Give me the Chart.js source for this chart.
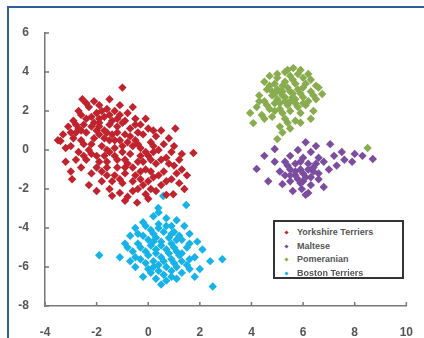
<!DOCTYPE html>
<html>
<head>
<meta charset="utf-8">
<script src="https://cdn.jsdelivr.net/npm/chart.js@4.4.1/dist/chart.umd.min.js"></script>
<style>
  html, body { margin: 0; padding: 0; background: #fff; }
  #wrap { position: relative; width: 424px; height: 338px; overflow: hidden; }
  #frame { position: absolute; left: 7px; top: 6px; width: 440px; height: 360px; border-left: 2px solid #2f5f9a; border-top: 2px solid #2f5f9a; box-sizing: border-box; }
  #legend { position: absolute; left: 273px; top: 220px; width: 131px; height: 59px; border: 2px solid #333; box-sizing: border-box; background: #fff;
    font: bold 9px "Liberation Sans", Arial, sans-serif; color: #555; padding-top: 4px; }
  #legend .row { height: 13.5px; line-height: 13.5px; position: relative; padding-left: 22px; white-space: nowrap; }
  #legend .mk { position: absolute; left: 10px; top: 5px; width: 3px; height: 3px; transform: rotate(45deg); }
  canvas { position: absolute; left: 0; top: 0; }
</style>
</head>
<body>
<div id="wrap">
  <canvas id="chart" width="424" height="338"></canvas>
  <div id="frame"></div>
  <div id="legend"></div>
</div>
<script>
const X_TICKS = [-4, -2, 0, 2, 4, 6, 8, 10];
const Y_TICKS = [-8, -6, -4, -2, 0, 2, 4, 6];

const SERIES_NAMES = ["Yorkshire Terriers", "Maltese", "Pomeranian", "Boston Terriers"];
const SERIES_COLORS = ["#c0232d", "#7c4d9f", "#88ac4e", "#17b3e8"];

const yorkshire = [
  [-3.4,0.46],[-1.0,3.2],[1.75,-0.15],[1.05,1.1],[-2.55,2.6],[-3.0,-1.1],[-2.95,-1.5],[-1.4,-2.35],[-0.43,-2.7],[-0.9,-2.6],[0.97,-2.27],[-0.1,-2.27],
  [-2.1,2.5],[-1.9,2.3],[-2.3,2.2],[-1.6,2.1],[-1.3,2.0],[-2.0,1.9],[-2.6,1.8],[-1.1,1.8],[-0.8,1.9],[-1.7,1.7],[-2.4,1.6],[-2.9,1.5],[-0.5,1.6],
  [-1.4,1.5],[-2.1,1.4],[-3.1,1.2],[-0.3,1.3],[-1.9,1.2],[-2.7,1.1],[-1.2,1.2],[-0.7,1.1],[0.0,1.1],[-3.3,0.8],[-2.4,0.9],[-1.6,0.9],[-0.9,0.8],
  [-0.2,0.8],[0.3,0.7],[-2.9,0.6],[-2.1,0.6],[-1.3,0.5],[-0.5,0.5],[0.1,0.4],[0.6,0.3],[-3.0,0.2],[-2.5,0.3],[-1.8,0.2],[-1.0,0.2],[-0.3,0.1],
  [0.4,0.0],[0.9,-0.1],[-2.7,-0.1],[-2.2,-0.2],[-1.5,-0.1],[-0.7,-0.2],[0.0,-0.3],[0.7,-0.4],[1.2,-0.5],[-2.4,-0.5],[-1.9,-0.6],[-1.2,-0.5],
  [-0.4,-0.6],[0.3,-0.7],[1.0,-0.8],[-2.6,-0.9],[-1.6,-0.9],[-0.9,-0.9],[-0.1,-1.0],[0.6,-1.1],[1.3,-1.0],[-2.2,-1.2],[-1.3,-1.3],[-0.5,-1.3],
  [0.2,-1.4],[0.9,-1.5],[-1.8,-1.6],[-1.0,-1.7],[-0.2,-1.8],[0.5,-1.8],[1.2,-1.7],[-2.3,-1.8],[-1.5,-2.0],[-0.6,-2.1],[0.3,-2.1],[-0.8,-2.4],[0.7,-2.3],
  [-2.0,1.0],[-1.7,0.6],[-1.4,0.8],[-1.1,0.5],[-0.8,0.4],[-2.3,0.0],[-2.0,-0.3],[-1.7,-0.3],[-1.3,0.1],[-1.0,-0.1],[-0.6,0.2],[-0.3,-0.3],
  [-1.9,1.6],[-1.5,1.3],[-1.0,1.4],[-2.2,1.2],[-2.6,0.5],[-2.8,0.9],[-1.6,0.0],[-0.9,-0.5],[-0.6,-0.9],[-0.2,-0.6],[0.2,-0.1],[0.5,-0.5],
  [-1.2,-0.9],[-1.8,-1.1],[-1.4,-1.6],[-0.9,-1.2],[-0.3,-1.5],[0.1,-1.1],[-2.5,1.3],[-3.2,0.1],[-3.5,0.5],[-2.7,2.0],[-0.1,1.6],[0.5,1.0],
  [0.8,0.6],[1.3,-0.2],[1.5,-1.3],[1.4,-2.0],[-2.8,-0.5],[-3.2,-0.6],[-1.1,2.3],[-1.5,2.6],[-0.6,2.2],[-2.0,-2.1],[-1.1,-2.2],[0.0,-2.5],
  [-1.7,1.0],[-1.2,0.9],[-0.4,0.9],
  [-2.4,2.4],[-1.8,2.0],[-1.5,1.8],[-2.2,1.7],[-1.2,1.6],[-0.9,1.5],[-2.6,1.0],[-1.9,0.8],[-1.5,0.5],[-2.2,0.3],[-0.7,0.7],[-0.4,0.3],
  [0.2,0.2],[-0.1,-0.1],[-1.3,-0.3],[-2.5,-0.3],[-1.6,-0.6],[-0.8,-0.7],[0.1,-0.5],[0.8,-0.7],[-2.0,-0.9],[-0.3,-1.1],[0.4,-1.3],[-1.6,-1.3],
  [-1.1,-1.5],[-0.6,-1.6],[0.0,-1.6],[0.7,-1.6],[-0.4,-2.0],[0.1,-2.0],[-1.9,1.4],[-2.8,1.3],[-3.0,0.9],[-0.5,1.3],[0.2,1.0],[1.0,0.2],[1.1,-1.2]
];

const maltese = [
  [4.2,-0.97],[4.65,-1.6],[8.7,-0.46],[7.05,0.3],[5.2,-1.75],[5.95,-2.0],[4.9,0.05],[4.5,-0.3],
  [6.1,0.4],[6.5,0.2],[5.8,0.0],[6.3,-0.1],[7.5,-0.1],[8.0,-0.2],[5.5,-0.3],[6.0,-0.4],[6.6,-0.4],[7.2,-0.3],[8.3,-0.3],
  [5.3,-0.6],[5.7,-0.7],[6.2,-0.7],[6.8,-0.6],[7.6,-0.5],[5.5,-1.0],[5.9,-1.0],[6.4,-1.1],[7.0,-1.0],[5.3,-1.3],[5.7,-1.3],
  [6.1,-1.4],[6.6,-1.5],[5.5,-1.6],[5.9,-1.7],[6.3,-1.8],[5.6,-2.1],[6.2,-2.2],[6.8,-1.9],[4.9,-0.6],[6.0,-1.2],[5.8,-1.5],
  [6.4,-0.9],[7.3,-0.8],[5.1,-1.1],[6.1,-2.3],
  [5.7,-1.1],[6.2,-1.0],[6.0,-1.6],[5.5,-1.3],[6.3,-1.4],[5.9,-0.6],[6.5,-0.7],[5.4,-0.8],[6.6,-1.2],[7.9,-0.6]
];

const pomeranian = [
  [5.62,4.2],[4.07,1.38],[5.0,0.56],[6.74,2.87],[3.95,1.9],
  [5.3,4.0],[5.9,4.1],[6.2,3.9],[4.7,3.8],[5.0,3.7],[5.5,3.8],[6.0,3.7],[4.5,3.5],[4.9,3.4],[5.3,3.5],[5.7,3.4],[6.1,3.4],
  [6.5,3.3],[4.6,3.1],[5.0,3.1],[5.4,3.2],[5.8,3.1],[6.3,3.0],[4.3,2.8],[4.8,2.8],[5.2,2.8],[5.6,2.9],[6.0,2.7],[6.5,2.6],
  [4.5,2.5],[4.9,2.4],[5.3,2.5],[5.7,2.4],[6.1,2.3],[4.2,2.2],[4.7,2.1],[5.1,2.1],[5.5,2.0],[5.9,1.9],[6.4,2.0],[4.4,1.8],
  [4.8,1.7],[5.3,1.6],[5.7,1.5],[5.1,1.2],[5.5,1.1],[5.2,0.9],[4.5,1.6],[6.3,1.6],
  [5.1,3.0],[5.5,3.0],[5.9,2.9],[5.3,2.7],[5.7,2.6],[5.0,2.6],[5.4,2.3],[5.8,2.2],[4.7,3.3],[5.2,3.3],[5.6,3.6],[6.3,3.6],
  [4.8,3.0],[6.2,2.5],[4.6,2.3],[5.9,1.4],[6.6,3.2],[5.4,4.1],
  [5.0,3.9],[5.8,3.9],[5.2,3.0],[5.6,2.7],[4.9,2.9],[6.0,3.2],[5.1,2.4],[5.5,2.5],[4.9,2.0],[5.2,1.9],[5.4,1.4],[4.3,2.5],
  [6.0,2.4],[6.4,2.8],[8.5,0.1]
];

const boston = [
  [-1.9,-5.4],[0.58,-2.36],[0.39,-2.97],[1.47,-2.82],[2.87,-5.6],[2.5,-7.0],
  [0.2,-3.4],[0.7,-3.5],[1.1,-3.6],[-0.2,-3.7],[0.4,-3.8],[0.9,-3.9],[1.4,-3.9],[-0.5,-4.0],[0.1,-4.1],[0.6,-4.2],[1.0,-4.2],
  [1.6,-4.3],[-0.7,-4.4],[-0.2,-4.4],[0.3,-4.5],[0.8,-4.5],[1.3,-4.6],[1.9,-4.7],[-0.9,-4.8],[-0.4,-4.8],[0.1,-4.9],[0.5,-4.9],
  [1.0,-5.0],[1.5,-5.0],[2.1,-5.1],[-0.6,-5.2],[-0.1,-5.2],[0.3,-5.3],[0.8,-5.3],[1.2,-5.4],[1.8,-5.5],[-1.1,-5.5],[-0.3,-5.6],
  [0.2,-5.7],[0.6,-5.7],[1.0,-5.8],[1.5,-5.9],[-0.5,-6.0],[0.0,-6.1],[0.4,-6.2],[0.9,-6.2],[1.3,-6.3],[2.0,-6.1],[-0.2,-6.5],
  [0.3,-6.6],[0.7,-6.7],[1.1,-6.6],[0.5,-6.9],[1.8,-6.5],[2.4,-5.7],
  [0.0,-4.6],[0.5,-4.7],[0.9,-4.8],[0.3,-5.1],[0.7,-5.1],[1.1,-5.2],[0.0,-5.4],[0.5,-5.5],[0.9,-5.6],[-0.3,-5.0],[1.3,-5.3],
  [0.2,-4.3],[0.7,-3.9],[1.2,-4.4],[-0.1,-5.8],[0.7,-6.0],[1.1,-6.0],[0.1,-6.3],[-0.7,-5.7],[1.6,-5.6],[-0.8,-5.0],[0.4,-3.2],
  [0.4,-4.0],[0.9,-4.3],[-0.4,-4.3],[0.2,-4.7],[1.1,-4.6],[-0.5,-5.5],[0.4,-5.9],[1.3,-5.7],[0.9,-6.5],[0.2,-6.0],[1.6,-4.8],
  [-0.1,-3.9],[0.6,-6.4],[1.6,-6.1]
];

const SERIES_DATA = [yorkshire, maltese, pomeranian, boston];

// inward tick marks, like the original plot
const inwardTicks = {
  id: "inwardTicks",
  afterDatasetsDraw(chart) {
    const { ctx, chartArea: a, scales: { x, y } } = chart;
    ctx.save();
    ctx.strokeStyle = "#777";
    ctx.lineWidth = 1.5;
    ctx.beginPath();
    X_TICKS.forEach(v => { const px = x.getPixelForValue(v); ctx.moveTo(px, a.bottom); ctx.lineTo(px, a.bottom - 4); });
    Y_TICKS.forEach(v => { const py = y.getPixelForValue(v); ctx.moveTo(a.left, py); ctx.lineTo(a.left + 4, py); });
    ctx.stroke();
    ctx.restore();
  }
};

const tickFont = { family: "'Liberation Sans', Arial, sans-serif", size: 12, weight: "bold" };

new Chart(document.getElementById("chart").getContext("2d"), {
  type: "scatter",
  data: {
    datasets: SERIES_DATA.map((pts, i) => ({
      label: SERIES_NAMES[i],
      data: pts.map(([px, py]) => ({ x: px, y: py })),
      backgroundColor: SERIES_COLORS[i],
      borderWidth: 0,
      pointStyle: "rectRot",
      pointRadius: 4.2,
    })),
  },
  options: {
    responsive: false,
    animation: false,
    layout: { padding: { left: 0, top: 33, right: 17, bottom: 0 } },
    scales: {
      x: {
        min: -4, max: 10,
        afterBuildTicks: s => { s.ticks = X_TICKS.map(v => ({ value: v })); },
        afterFit: s => { s.height = 32; },
        grid: { display: false },
        border: { display: true, color: "#777", width: 1.5 },
        ticks: { color: "#555", font: tickFont, padding: 11, maxRotation: 0 },
      },
      y: {
        min: -8, max: 6,
        afterBuildTicks: s => { s.ticks = Y_TICKS.map(v => ({ value: v })); },
        afterFit: s => { s.width = 45; },
        grid: { display: false },
        border: { display: true, color: "#777", width: 1.5 },
        ticks: { color: "#555", font: tickFont, padding: 8 },
      },
    },
    plugins: { legend: { display: false }, tooltip: { enabled: false } },
  },
  plugins: [inwardTicks],
});

document.getElementById("legend").innerHTML = SERIES_NAMES.map((n, i) =>
  `<div class="row"><span class="mk" style="background:${SERIES_COLORS[i]}"></span>${n}</div>`
).join("");
</script>
</body>
</html>
